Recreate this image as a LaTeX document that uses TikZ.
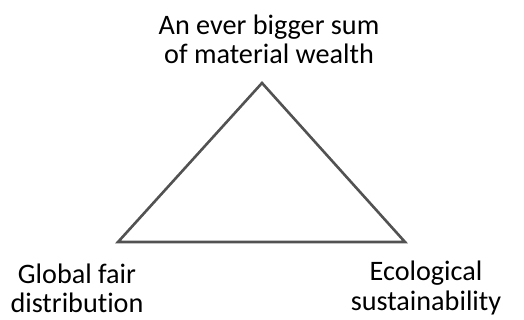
\documentclass[tikz,border=0pt]{standalone}
\usepackage{fontspec}
\setmainfont{Carlito}[Ligatures=NoCommon]
\usetikzlibrary{positioning}
\begin{document}
\begin{tikzpicture}[x=0.5pt, y=-0.5pt,
    label/.style={align=center, font=\fontsize{14.1}{14.6}\selectfont, inner sep=0pt},
    edge/.style={draw=black!68, line width=1.3pt, line join=miter}]
    \useasboundingbox (0,0) rectangle (524,320);

    \coordinate (apex) at (262,83);
    \coordinate (left) at (118,242);
    \coordinate (right) at (405,242);

    \node[label] (wealth) at (269,39) {An ever bigger sum\\of material wealth};
    \node[label] (fair) at (77,288) {Global fair\\distribution};
    \node[label] (eco) at (426,288) {Ecological\\sustainability};

    \draw[edge] (apex) -- (left) -- (right) -- cycle;
\end{tikzpicture}
\end{document}
